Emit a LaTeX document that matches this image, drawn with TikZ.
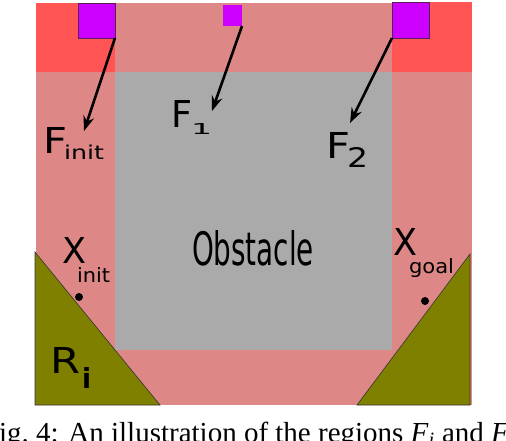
\documentclass[tikz,border=0pt]{standalone}
\usepackage{graphicx}
\usepackage{fontspec}
\newfontfamily\djv{DejaVu Sans}
\newfontfamily\capfont{Liberation Serif}
\usetikzlibrary{arrows.meta}
\definecolor{regpink}{RGB}{222,135,135}
\definecolor{regred}{RGB}{255,85,85}
\definecolor{obsgray}{RGB}{170,170,170}
\definecolor{sqpurple}{RGB}{204,0,255}
\definecolor{sqedge}{RGB}{90,30,90}
\definecolor{triolive}{RGB}{128,128,0}
\newcommand\fitt[3]{\resizebox{#1pt}{#2pt}{\djv #3}}
\tikzset{
  lbl/.style={inner sep=0pt, outer sep=0pt, anchor=base west},
  fsquare/.style={rectangle, fill=sqpurple, inner sep=0pt, outer sep=0pt},
  farrow/.style={line width=2.6pt, -{Stealth[length=15pt,width=11pt,inset=5pt]}},
  tri/.style={fill=triolive, draw=black!80, line width=0.6pt},
  xdot/.style={circle, fill=black, inner sep=0pt, minimum size=8pt}
}
\begin{document}
\begin{tikzpicture}[x=1pt,y=-1pt]
\clip (0,0) rectangle (506,440);
% regions
\fill[regpink] (36,3) rectangle (472,405);
\fill[regred] (36,3) rectangle (115,72);
\fill[regred] (392,2) rectangle (472,72);
\fill[obsgray] (115,72) rectangle (392,350);
% triangles
\draw[tri] (35,252) -- (35,405) -- (160,405) -- cycle;
\draw[tri] (470,254) -- (470,405) -- (357,405) -- cycle;
% squares
\node[fsquare, draw=sqedge, line width=0.8pt, minimum width=37pt, minimum height=35pt] (sqinit) at (96.5,20.5) {};
\node[fsquare, minimum width=19pt, minimum height=21pt] (sqone) at (232.5,15.5) {};
\node[fsquare, draw=sqedge, line width=0.8pt, minimum width=37pt, minimum height=36pt] (sqtwo) at (410.5,20) {};
% arrow tips
\coordinate (tinit) at (84,131);
\coordinate (tone) at (212,111);
\coordinate (ttwo) at (350,123);
\draw[farrow] (sqinit.south east) -- (tinit);
\draw[farrow] (sqone.south east) -- (tone);
\draw[farrow] (sqtwo.south west) -- (ttwo);
% labels
\node[lbl] (finitF) at (43,153) {\fitt{24}{26}{F}};
\node[lbl] (finitS) at (64,159) {\fitt{40}{14.5}{init}};
\node[lbl] (foneF) at (171,127) {\fitt{21}{27}{F}};
\node[lbl] (foneS) at (191,134) {\fitt{21}{11}{1}};
\node[lbl] (ftwoF) at (326,158) {\fitt{24}{26}{F}};
\node[lbl] (ftwoS) at (347,167) {\fitt{21}{20}{2}};
\node[lbl] (obs) at (192,265) {\fitt{122}{35}{Obstacle}};
\node[lbl] (xinitX) at (62,263) {\fitt{24}{26}{X}};
\node[lbl] (xinitS) at (77,282) {\fitt{33}{15}{init}};
\node[lbl] (xgoalX) at (393,255) {\fitt{24}{27}{X}};
\node[lbl] (xgoalS) at (409,273) {\fitt{45}{15}{goal}};
\node[lbl] (riR) at (50,373) {\fitt{30}{26}{R}};
\node[lbl] (riS) at (82,388) {\fitt{9}{21}{\bfseries i}};
% dots
\node[xdot] (dinit) at (79,297) {};
\node[xdot] (dgoal) at (425,301) {};
% caption (cut off)
\node[lbl] (caption) at (-17,442) {\capfont\fontsize{29pt}{34pt}\selectfont Fig.~4: An illustration of the regions \textit{F}\textsubscript{\textit{i}} and \textit{F}\textsubscript{\textit{j}}};
\end{tikzpicture}
\end{document}
